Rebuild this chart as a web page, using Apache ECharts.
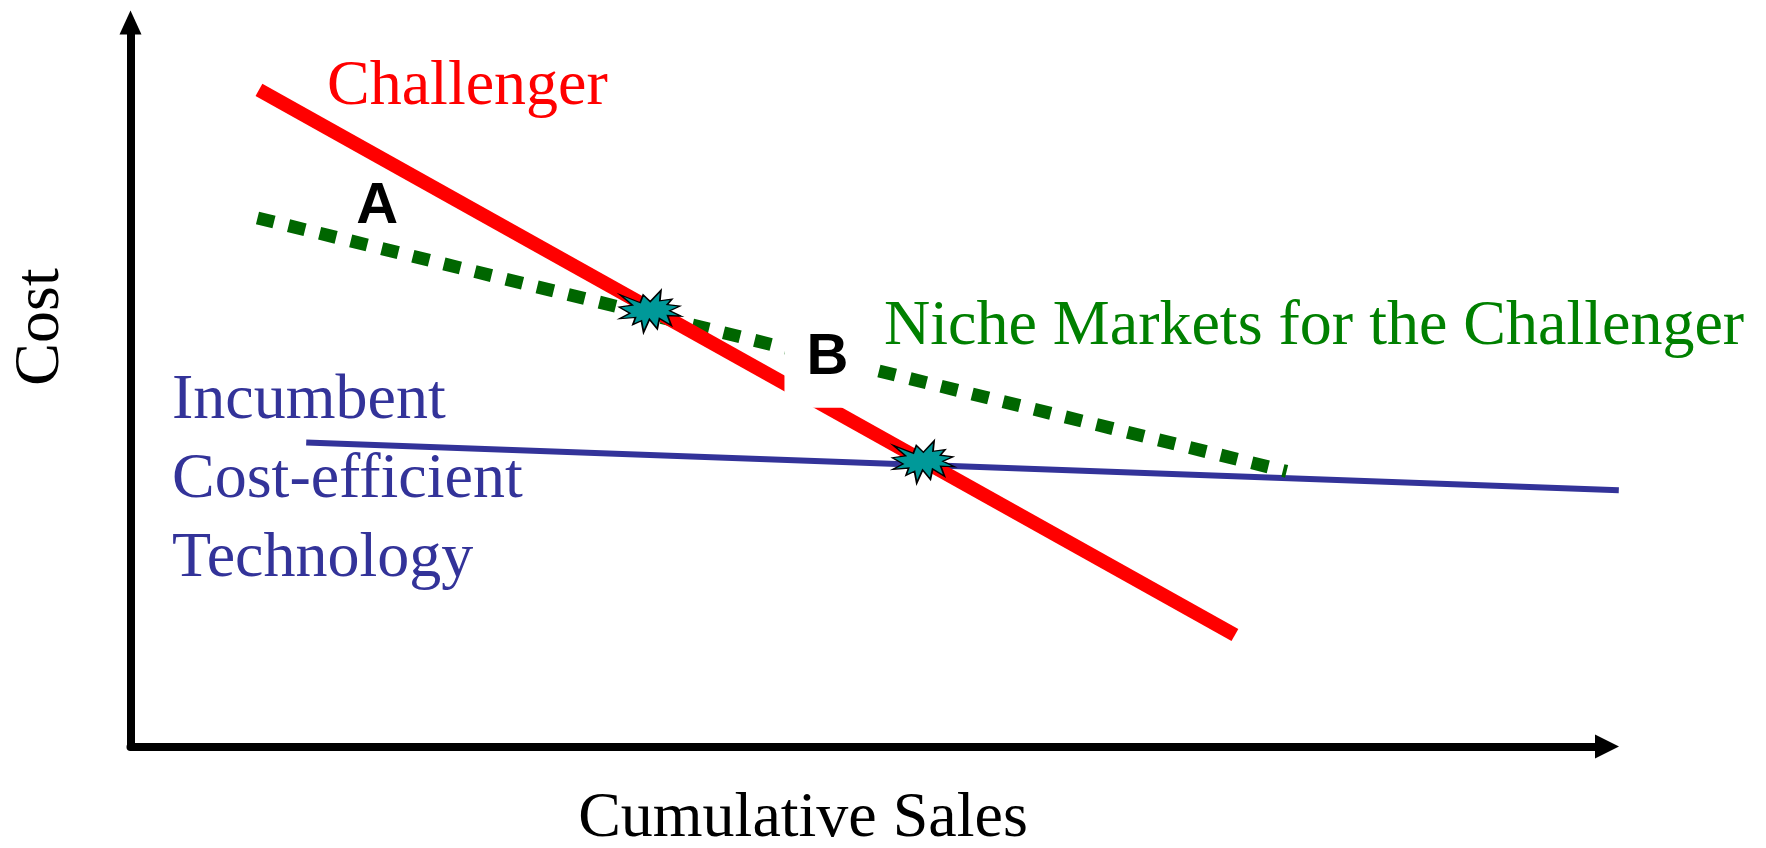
<!DOCTYPE html>
<html>
<head>
<meta charset="utf-8">
<script src="https://cdn.jsdelivr.net/npm/echarts@6/dist/echarts.min.js"></script>
<style>
html,body{margin:0;padding:0;background:#fff;}
#chart{width:1766px;height:848px;}
</style>
</head>
<body>
<div id="chart"></div>
<script>
// ---- data (arbitrary conceptual units: x 0..100 cumulative sales, y 0..100 cost)
const challengerX = [8.7, 74.8];
const challengerY = [90.7, 15.4];
const nicheX = [8.6, 78.3];
const nicheY = [73.0, 38.0];
const incumbentX = [11.9, 100.8];
const incumbentY = [42.0, 35.4];
const starX = [35.2, 53.7];
const starY = [60.1, 39.3];
const markNames = ['A', 'B'];
const markX = [16.7, 47.2];
const markY = [74.5, 53.7];

const pts = (xs, ys) => xs.map((x, i) => [x, ys[i]]);

const starPath = 'path://M108 58 L145.22 0 L141.55 53.25 L183.8 44.57 L167.02 73.15 L210.97 81.37 L176.07 104.75 L216 132.9 L168.37 129.42 L181.45 180.95 L140.2 144.57 L132.47 197.37 L105.32 149.35 L84.85 216 L77.15 156.27 L47.62 176.17 L56.67 139.37 L1.35 145.87 L37.22 117.75 L0 86.15 L46.27 76.17 L3.7 22.95 L73.12 63.2 L83.52 22.95 Z';

const SERIF = 'Liberation Serif';
const SANS = 'Liberation Sans';

function txt(text, x, y, color, align, extra) {
  return Object.assign({
    type: 'text', z: 20,
    style: {text: text, x: x, y: y, verticalAlign: 'middle', align: align,
      fontFamily: SERIF, fontSize: 64, fontWeight: 'normal', fill: color}
  }, extra || {});
}

const chart = echarts.init(document.getElementById('chart'), null, {renderer: 'canvas'});
chart.setOption({
  backgroundColor: '#ffffff',
  animation: false,
  grid: {left: 130.5, right: 159, top: 22.5, bottom: 101.5},
  xAxis: {
    type: 'value', min: 0, max: 100,
    axisLine: {show: true, symbol: ['none', 'triangle'], symbolSize: [24, 24], lineStyle: {color: '#000', width: 8}},
    axisTick: {show: false}, axisLabel: {show: false}, splitLine: {show: false}
  },
  yAxis: {
    type: 'value', min: 0, max: 100,
    axisLine: {show: true, symbol: ['none', 'triangle'], symbolSize: [22, 24], lineStyle: {color: '#000', width: 8}},
    axisTick: {show: false}, axisLabel: {show: false}, splitLine: {show: false}
  },
  series: [
    {
      // incumbent line extends past the axis end, so draw it unclipped
      name: 'Incumbent', type: 'custom', clip: false, z: 2,
      data: [[incumbentX[0], incumbentY[0], incumbentX[1], incumbentY[1]]],
      encode: {x: [0, 2], y: [1, 3]},
      renderItem: function (params, api) {
        const p1 = api.coord([api.value(0), api.value(1)]);
        const p2 = api.coord([api.value(2), api.value(3)]);
        return {
          type: 'line',
          shape: {x1: p1[0], y1: p1[1], x2: p2[0], y2: p2[1]},
          style: {stroke: '#333399', lineWidth: 6, lineCap: 'butt', fill: null}
        };
      }
    },
    {
      name: 'Niche', type: 'line', data: pts(nicheX, nicheY), clip: false,
      symbol: 'none', lineStyle: {color: '#006600', width: 13, type: [17, 15], cap: 'butt'}, z: 3
    },
    {
      name: 'Challenger', type: 'line', data: pts(challengerX, challengerY), clip: false,
      symbol: 'none', lineStyle: {color: '#ff0000', width: 14, cap: 'butt'}, z: 4
    },
    {
      name: 'Stars', type: 'scatter', data: pts(starX, starY), clip: false,
      symbol: starPath, symbolSize: [62, 42],
      itemStyle: {color: '#009999', borderColor: '#000', borderWidth: 1.5, opacity: 1}, z: 5
    },
    {
      name: 'Marks', type: 'scatter', clip: false,
      data: markNames.map((n, i) => ({
        name: n, value: [markX[i], markY[i]],
        label: n === 'B' ? {backgroundColor: '#ffffff', padding: [20, 22, 20, 22]} : {}
      })),
      symbolSize: 1, z: 10,
      itemStyle: {opacity: 1, color: 'rgba(0,0,0,0)'},
      label: {
        show: true, position: 'inside', formatter: '{b}',
        fontFamily: SANS, fontWeight: 'bold', fontSize: 58, color: '#000',
        lineHeight: 60, opacity: 1
      },
      emphasis: {disabled: true},
      labelLayout: {hideOverlap: false}
    }
  ],
  graphic: [
    txt('Challenger', 327, 87, '#ff0000', 'left'),
    txt('Niche Markets for the Challenger', 884, 327, '#008000', 'left'),
    txt('Incumbent', 172, 401, '#333399', 'left'),
    txt('Cost-efficient', 172, 480, '#333399', 'left'),
    txt('Technology', 172, 559, '#333399', 'left'),
    txt('Cumulative Sales', 803, 819, '#000000', 'center'),
    {
      type: 'text', z: 20, x: 41, y: 327, rotation: Math.PI / 2,
      style: {text: 'Cost', x: 0, y: 0, verticalAlign: 'middle', align: 'center',
        fontFamily: SERIF, fontSize: 64, fill: '#000000'}
    }
  ]
});
</script>
</body>
</html>
